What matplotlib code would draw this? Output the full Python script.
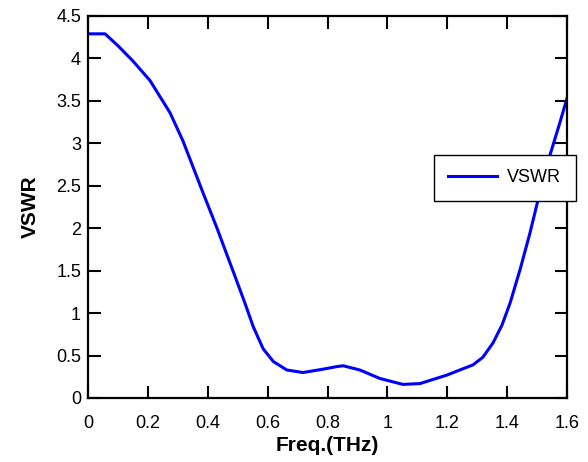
import matplotlib
matplotlib.use("Agg")
import matplotlib.pyplot as plt

# values
freq_thz = [0.0, 0.03, 0.057, 0.10, 0.15, 0.207, 0.274, 0.317, 0.351, 0.385,
            0.431, 0.468, 0.484, 0.524, 0.552, 0.585, 0.619, 0.664, 0.718, 0.786,
            0.831, 0.852, 0.908, 0.975, 1.052, 1.109, 1.199, 1.242, 1.286, 1.319,
            1.353, 1.383, 1.41, 1.443, 1.476, 1.503, 1.543, 1.575, 1.6]
vswr = [4.29, 4.29, 4.29, 4.15, 3.97, 3.74, 3.36, 3.03, 2.72, 2.41,
        2.00, 1.65, 1.50, 1.12, 0.84, 0.58, 0.43, 0.33, 0.30, 0.34,
        0.37, 0.38, 0.33, 0.23, 0.16, 0.17, 0.27, 0.33, 0.39, 0.48,
        0.65, 0.86, 1.12, 1.51, 1.94, 2.33, 2.86, 3.23, 3.53]

x_ticks = [0, 0.2, 0.4, 0.6, 0.8, 1.0, 1.2, 1.4, 1.6]
x_tick_labels = ["0", "0.2", "0.4", "0.6", "0.8", "1", "1.2", "1.4", "1.6"]
y_ticks = [0, 0.5, 1, 1.5, 2, 2.5, 3, 3.5, 4, 4.5]
y_tick_labels = ["0", "0.5", "1", "1.5", "2", "2.5", "3", "3.5", "4", "4.5"]

plt.rcParams["font.family"] = ["Liberation Sans", "DejaVu Sans"]

fig = plt.figure(figsize=(5.88, 4.62), dpi=100)
ax = fig.add_axes([88 / 588, 64 / 462, 479 / 588, 382 / 462])

ax.plot(freq_thz, vswr, color="#0000ff", linewidth=2.2, label="VSWR",
        solid_joinstyle="round")

ax.set_xlim(0, 1.6)
ax.set_ylim(0, 4.5)
ax.set_xticks(x_ticks)
ax.set_xticklabels(x_tick_labels)
ax.set_yticks(y_ticks)
ax.set_yticklabels(y_tick_labels)

ax.tick_params(direction="in", length=9, width=1.5, labelsize=13,
               top=True, right=True, labeltop=False, labelright=False)
ax.tick_params(axis="x", pad=12)
ax.tick_params(axis="y", pad=5)
for spine in ax.spines.values():
    spine.set_linewidth(1.6)

ax.set_xlabel("Freq.(THz)", fontsize=15, fontweight="bold", labelpad=3)
ax.set_ylabel("VSWR", fontsize=15, fontweight="bold", labelpad=12)

leg = ax.legend(loc="upper left", bbox_to_anchor=(434 / 588, 1 - 155 / 462),
                bbox_transform=fig.transFigure, borderaxespad=0,
                fontsize=13, fancybox=False, framealpha=1,
                edgecolor="black", handlelength=2.7, handletextpad=0.55,
                borderpad=0.8)
leg.get_frame().set_linewidth(1.0)

fig.savefig("out.png", dpi=100)
